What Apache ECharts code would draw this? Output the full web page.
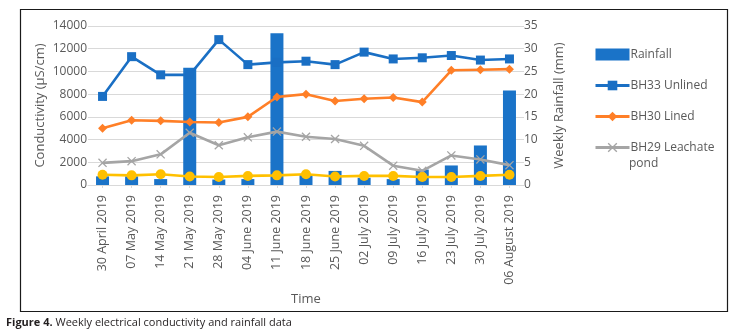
<!DOCTYPE html>
<html>
<head>
<meta charset="utf-8">
<script src="https://cdn.jsdelivr.net/npm/echarts@6/dist/echarts.min.js"></script>
<style>
  html, body { margin: 0; padding: 0; background: #fff; }
  #chart { width: 736px; height: 330px; }
</style>
</head>
<body>
<div id="chart"></div>
<script>
const dates = [
  '30 April 2019', '07 May 2019', '14 May 2019', '21 May 2019', '28 May 2019',
  '04 June 2019', '11 June 2019', '18 June 2019', '25 June 2019', '02 July 2019',
  '09 July 2019', '16 July 2019', '23 July 2019', '30 July 2019', '06 August 2019'
];
// weekly rainfall, mm (right axis)
const rainfall = [1.9, 1.9, 1.3, 25.8, 1.2, 1.3, 33.4, 2.3, 3.1, 1.6, 1.3, 3.4, 4.3, 8.7, 20.8];
// conductivity, uS/cm (left axis)
const bh33 = [7800, 11300, 9700, 9700, 12800, 10600, 10800, 10900, 10600, 11700, 11100, 11200, 11400, 11000, 11100];
const bh30 = [5000, 5700, 5650, 5550, 5500, 6000, 7750, 8000, 7400, 7600, 7700, 7300, 10100, 10150, 10200];
const bh29 = [1950, 2100, 2700, 4600, 3500, 4200, 4700, 4250, 4050, 3450, 1700, 1250, 2600, 2250, 1750];
const fifth = [900, 850, 950, 750, 700, 800, 850, 950, 750, 800, 800, 700, 700, 800, 900];

const leftTicks = { min: 0, max: 14000, interval: 2000 };
const rightTicks = { min: 0, max: 35, interval: 5 };

const txt = '#595959';
const font = '"Open Sans", "Noto Sans", sans-serif';
const crossPath = 'path://M1,0 L5,4 L9,0 L10,1 L6,5 L10,9 L9,10 L5,6 L1,10 L0,9 L4,5 L0,1 Z';

const chart = echarts.init(document.getElementById('chart'));
chart.setOption({
  animation: false,
  textStyle: { fontFamily: font },
  title: {
    left: 6,
    top: 317,
    padding: 0,
    text: '{b|Figure 4.} Weekly electrical conductivity and rainfall data',
    textStyle: {
      fontFamily: font,
      fontSize: 11,
      fontWeight: 'normal',
      color: '#231f20',
      rich: {
        b: { fontFamily: font, fontSize: 11, fontWeight: 'bold', color: '#231f20' }
      }
    }
  },
  graphic: [{
    type: 'rect',
    shape: { x: 20.5, y: 9.5, width: 707, height: 302 },
    style: { fill: null, stroke: '#1a1a1a', lineWidth: 1.2 },
    silent: true
  }, {
    // second line of the wrapped legend label
    type: 'text',
    left: 629,
    top: 158,
    style: { text: 'pond', fill: txt, font: '12px ' + font }
  }],
  legend: {
    orient: 'vertical',
    left: 594,
    top: 46,
    padding: 0,
    itemWidth: 34,
    itemHeight: 12,
    itemGap: 14,
    data: [
      { name: 'Rainfall', icon: 'rect' },
      'BH33 Unlined', 'BH30 Lined', 'BH29 Leachate pond'
    ],
    formatter: function (name) {
      return name === 'BH29 Leachate pond' ? 'BH29 Leachate' : name;
    },
    lineStyle: { width: 3 },
    textStyle: { color: txt, fontSize: 12, fontFamily: font, padding: [0, 0, 0, -4], lineHeight: 17 }
  },
  grid: { left: 88, right: 212, top: 26, bottom: 145 },
  xAxis: {
    type: 'category',
    data: dates,
    name: 'Time',
    nameLocation: 'middle',
    nameGap: 108,
    nameMoveOverlap: false,
    nameTextStyle: { color: txt, fontSize: 13 },
    axisLine: { lineStyle: { color: '#d9d9d9' } },
    axisTick: { show: true, alignWithLabel: true, length: 3, lineStyle: { color: '#d9d9d9' } },
    axisLabel: { rotate: 90, color: txt, fontSize: 12.5, margin: 10, interval: 0 }
  },
  yAxis: [{
    type: 'value',
    min: leftTicks.min,
    max: leftTicks.max,
    interval: leftTicks.interval,
    name: 'Conductivity (µS/cm)',
    nameLocation: 'middle',
    nameGap: 41,
    nameRotate: 90,
    nameMoveOverlap: false,
    nameTextStyle: { color: txt, fontSize: 13 },
    axisLabel: { color: txt, fontSize: 12, margin: 1, formatter: function (v) { return String(v); } },
    axisLine: { show: false },
    axisTick: { show: false },
    splitLine: { lineStyle: { color: '#d9d9d9' } }
  }, {
    type: 'value',
    position: 'right',
    min: rightTicks.min,
    max: rightTicks.max,
    interval: rightTicks.interval,
    name: 'Weekly Rainfall (mm)',
    nameLocation: 'middle',
    nameGap: 29,
    nameRotate: 90,
    nameMoveOverlap: false,
    nameTextStyle: { color: txt, fontSize: 13 },
    axisLabel: { color: txt, fontSize: 12, margin: 0 },
    axisLine: { show: false },
    axisTick: { show: false },
    splitLine: { show: false }
  }],
  series: [{
    name: 'BH33 Unlined',
    type: 'line',
    data: bh33,
    symbol: 'rect',
    symbolSize: 9,
    lineStyle: { color: '#1a6fc4', width: 2.6 },
    itemStyle: { color: '#1a6fc4' }
  }, {
    name: 'Rainfall',
    type: 'bar',
    yAxisIndex: 1,
    data: rainfall,
    barWidth: 13,
    itemStyle: { color: '#1a73c8' }
  }, {
    name: 'BH30 Lined',
    type: 'line',
    data: bh30,
    symbol: 'diamond',
    symbolSize: 9,
    lineStyle: { color: '#ff7f27', width: 2.6 },
    itemStyle: { color: '#ff7f27' }
  }, {
    name: 'BH29 Leachate pond',
    type: 'line',
    data: bh29,
    symbol: crossPath,
    symbolSize: 9,
    lineStyle: { color: '#a5a5a5', width: 2.6 },
    itemStyle: { color: '#a5a5a5' }
  }, {
    name: 'BH28',
    type: 'line',
    data: fifth,
    symbol: 'circle',
    symbolSize: 10,
    lineStyle: { color: '#ffc000', width: 2.6 },
    itemStyle: { color: '#ffc000' }
  }]
});
</script>
</body>
</html>
